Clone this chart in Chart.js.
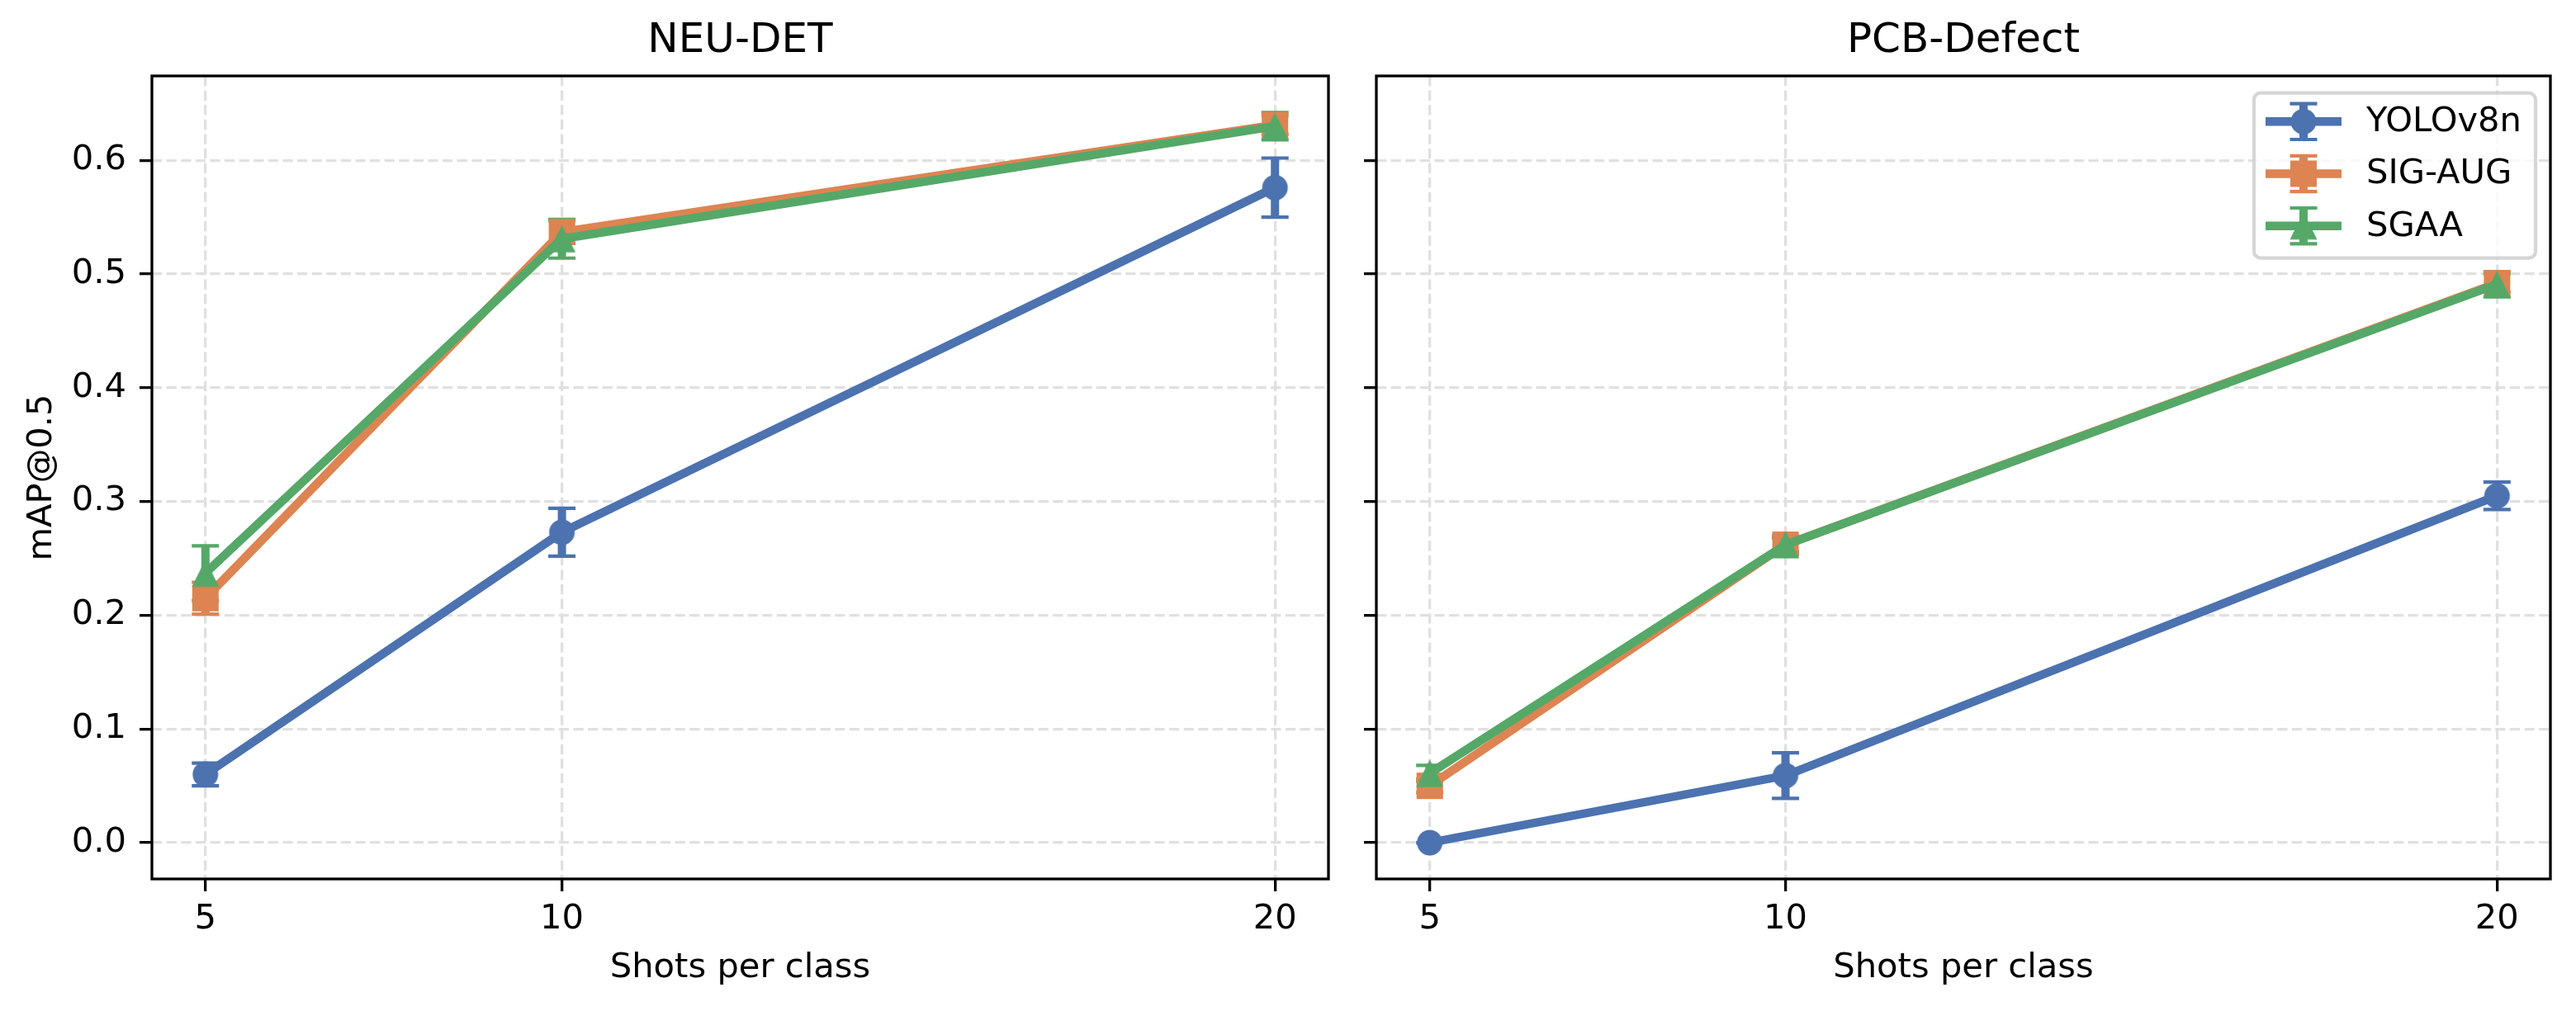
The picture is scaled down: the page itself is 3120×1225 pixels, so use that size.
<!DOCTYPE html>
<html><head><meta charset="utf-8">
<script src="https://cdn.jsdelivr.net/npm/chart.js@4.4.0/dist/chart.umd.min.js"></script>
<style>
html,body{margin:0;padding:0;background:#fff;}
#wrap{position:relative;width:3120px;height:1225px;overflow:hidden;background:#fff;}
canvas{position:absolute;top:0;}
</style></head><body>
<div id="wrap">
<canvas id="c1" width="1640" height="1225" style="left:0px"></canvas>
<canvas id="c2" width="1480" height="1225" style="left:1640px"></canvas>
</div>
<script>
// ---------------- data ----------------
const shots = [5, 10, 20];
const xTicks = [5, 10, 20];
const yTicks = [0, 0.1, 0.2, 0.3, 0.4, 0.5, 0.6];
const seriesNames = ['YOLOv8n', 'SIG-AUG', 'SGAA'];
const panelTitles = ['NEU-DET', 'PCB-Defect'];
const xAxisLabel = 'Shots per class';
const yAxisLabel = 'mAP@0.5';

const neuYolo    = [0.060, 0.273, 0.576];
const neuYoloErr = [0.010, 0.021, 0.026];
const neuSig     = [0.215, 0.537, 0.631];
const neuSigErr  = [0.014, 0.010, 0.008];
const neuSgaa    = [0.237, 0.531, 0.630];
const neuSgaaErr = [0.024, 0.017, 0.012];

const pcbYolo    = [0.000, 0.059, 0.305];
const pcbYoloErr = [0.000, 0.020, 0.012];
const pcbSig     = [0.050, 0.262, 0.492];
const pcbSigErr  = [0.006, 0.008, 0.008];
const pcbSgaa    = [0.061, 0.262, 0.491];
const pcbSgaaErr = [0.007, 0.006, 0.011];

// ---------------- style ----------------
const FONT = 'DejaVu Sans';
const colors = ['#4C72B0', '#DD8452', '#55A868'];
const shapes = ['circle', 'square', 'triangle'];
const X_MIN = 4.25, X_MAX = 20.75;
const Y_MIN = -0.0319, Y_MAX = 0.6742;

function makeMarker(shape, color) {
  const c = document.createElement('canvas');
  c.width = 40; c.height = 40;
  const g = c.getContext('2d');
  g.fillStyle = color;
  g.beginPath();
  if (shape === 'circle') {
    g.arc(20, 20, 15.5, 0, Math.PI * 2);
  } else if (shape === 'square') {
    g.rect(4, 4, 32, 32);
  } else {
    g.moveTo(20, 3.5); g.lineTo(36.5, 36.5); g.lineTo(3.5, 36.5); g.closePath();
  }
  g.fill();
  return c;
}
const markers = shapes.map((s, i) => makeMarker(s, colors[i]));

function makeDataset(i, vals, errs) {
  return {
    label: seriesNames[i],
    data: shots.map((x, k) => ({x: x, y: vals[k]})),
    errors: errs,
    borderColor: colors[i],
    backgroundColor: colors[i],
    borderWidth: 10.4,
    borderCapStyle: 'square',
    borderJoinStyle: 'round',
    tension: 0,
    pointStyle: markers[i],
    pointRadius: 15,
    pointHoverRadius: 15,
    order: 2 - i
  };
}

const errorBarPlugin = {
  id: 'errorBars',
  beforeDatasetsDraw(chart) {
    const ctx = chart.ctx;
    const xs = chart.scales.x, ys = chart.scales.y;
    chart.data.datasets.forEach((ds, di) => {
      if (!ds.errors) return;
      ctx.save();
      ctx.strokeStyle = ds.borderColor;
      ds.data.forEach((p, k) => {
        const e = ds.errors[k];
        const px = xs.getPixelForValue(p.x);
        const y0 = ys.getPixelForValue(p.y - e);
        const y1 = ys.getPixelForValue(p.y + e);
        ctx.lineWidth = 10;
        ctx.lineCap = 'butt';
        ctx.beginPath(); ctx.moveTo(px, y0); ctx.lineTo(px, y1); ctx.stroke();
        ctx.lineWidth = 4.2;
        ctx.beginPath();
        ctx.moveTo(px - 16.5, y0); ctx.lineTo(px + 16.5, y0);
        ctx.moveTo(px - 16.5, y1); ctx.lineTo(px + 16.5, y1);
        ctx.stroke();
      });
      ctx.restore();
    });
  }
};

const framePlugin = {
  id: 'frame',
  afterDatasetsDraw(chart) {
    const a = chart.chartArea, ctx = chart.ctx;
    ctx.save();
    ctx.strokeStyle = '#000';
    ctx.lineWidth = 3.3;
    ctx.strokeRect(a.left, a.top, a.right - a.left, a.bottom - a.top);
    ctx.restore();
  }
};

const legendPlugin = {
  id: 'mplLegend',
  afterDraw(chart, args, opts) {
    if (!opts || !opts.show) return;
    const ctx = chart.ctx, a = chart.chartArea;
    const boxW = 341, boxH = 200;
    const right = a.right - 18, top = a.top + 20.7, left = right - boxW;
    ctx.save();
    ctx.beginPath();
    if (ctx.roundRect) ctx.roundRect(left, top, boxW, boxH, 8); else ctx.rect(left, top, boxW, boxH);
    ctx.fillStyle = 'rgba(255,255,255,0.8)';
    ctx.fill();
    ctx.strokeStyle = 'rgba(204,204,204,0.8)';
    ctx.lineWidth = 4.2;
    ctx.stroke();
    seriesNames.forEach((name, i) => {
      const cy = top + 34.6 + i * 63.2;
      const cx = left + 60;
      ctx.strokeStyle = colors[i];
      ctx.lineWidth = 10.4; ctx.lineCap = 'butt';
      ctx.beginPath(); ctx.moveTo(left + 14, cy); ctx.lineTo(left + 106, cy); ctx.stroke();
      ctx.lineWidth = 10;
      ctx.beginPath(); ctx.moveTo(cx, cy - 21.7); ctx.lineTo(cx, cy + 21.7); ctx.stroke();
      ctx.lineWidth = 4.2;
      ctx.beginPath();
      ctx.moveTo(cx - 16.5, cy - 21.7); ctx.lineTo(cx + 16.5, cy - 21.7);
      ctx.moveTo(cx - 16.5, cy + 21.7); ctx.lineTo(cx + 16.5, cy + 21.7);
      ctx.stroke();
      ctx.drawImage(markers[i], cx - 20, cy - 20);
      ctx.fillStyle = '#000';
      ctx.font = '41.67px "' + FONT + '"';
      ctx.textAlign = 'left'; ctx.textBaseline = 'middle';
      ctx.fillText(name, left + 136, cy + 1);
    });
    ctx.restore();
  }
};

function makeChart(canvasId, panel, datasets, isLeft) {
  const gridOpts = {
    color: '#e0e0e0', lineWidth: 3.3,
    tickColor: '#000', tickWidth: 3.3, tickLength: 15, tickBorderDash: []
  };
  return new Chart(document.getElementById(canvasId), {
    type: 'line',
    data: { datasets: datasets },
    options: {
      responsive: false, animation: false, devicePixelRatio: 1,
      layout: { padding: { left: 0, right: 31, top: 0, bottom: 0 } },
      plugins: {
        legend: { display: false },
        tooltip: { enabled: false },
        title: {
          display: true, text: panelTitles[panel], fullSize: false,
          color: '#000', font: { family: FONT, size: 50, weight: 'normal' },
          padding: { top: 20, bottom: 12 }
        },
        mplLegend: { show: !isLeft }
      },
      scales: {
        x: {
          type: 'linear', min: X_MIN, max: X_MAX,
          afterBuildTicks: s => { s.ticks = xTicks.map(v => ({ value: v })); },
          afterFit: s => { s.height = 160; },
          ticks: { color: '#000', font: { family: FONT, size: 41.67 }, padding: 9,
                   maxRotation: 0, autoSkip: false, callback: v => String(v) },
          grid: gridOpts,
          border: { display: false, dash: [12.3, 5.3] },
          title: { display: true, text: xAxisLabel, color: '#000',
                   font: { family: FONT, size: 41.67 }, padding: { top: 0, bottom: 26.7 } }
        },
        y: {
          type: 'linear', min: Y_MIN, max: Y_MAX,
          afterBuildTicks: s => { s.ticks = yTicks.map(v => ({ value: v })); },
          afterFit: s => { s.width = isLeft ? 184 : 27; },
          ticks: { display: isLeft, color: '#000', font: { family: FONT, size: 41.67 }, padding: 16,
                   callback: v => Number(v).toFixed(1) },
          grid: gridOpts,
          border: { display: false, dash: [12.3, 5.3] },
          title: { display: isLeft, text: yAxisLabel, color: '#000',
                   font: { family: FONT, size: 41.67 }, padding: { top: 26, bottom: 0 } }
        }
      }
    },
    plugins: [errorBarPlugin, framePlugin, legendPlugin]
  });
}

makeChart('c1', 0, [
  makeDataset(0, neuYolo, neuYoloErr),
  makeDataset(1, neuSig, neuSigErr),
  makeDataset(2, neuSgaa, neuSgaaErr)
], true);
makeChart('c2', 1, [
  makeDataset(0, pcbYolo, pcbYoloErr),
  makeDataset(1, pcbSig, pcbSigErr),
  makeDataset(2, pcbSgaa, pcbSgaaErr)
], false);
</script>
</body></html>
